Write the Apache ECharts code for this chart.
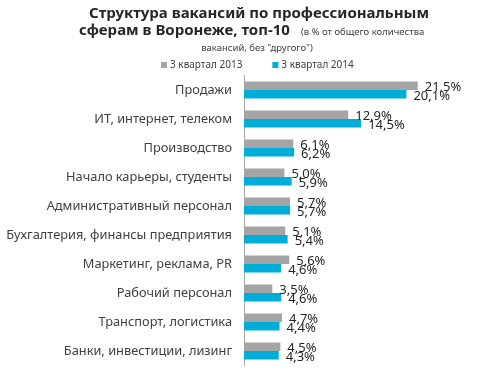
<!DOCTYPE html>
<html><head><meta charset="utf-8">
<script src="https://cdn.jsdelivr.net/npm/echarts@6/dist/echarts.min.js"></script>
<style>html,body{margin:0;padding:0;background:#fff}#c{width:500px;height:382px}</style>
</head><body><div id="c"></div>
<script>
const categories = ['Продажи','ИТ, интернет, телеком','Производство','Начало карьеры, студенты','Административный персонал','Бухгалтерия, финансы предприятия','Маркетинг, реклама, PR','Рабочий персонал','Транспорт, логистика','Банки, инвестиции, лизинг'];
const seriesNames = ['3 квартал 2013','3 квартал 2014'];
const values2013 = [21.5,12.9,6.1,5.0,5.7,5.1,5.6,3.5,4.7,4.5];
const values2014 = [20.1,14.5,6.2,5.9,5.7,5.4,4.6,4.6,4.4,4.3];

const FONT = '"Noto Sans", sans-serif';
const fmt = p => p.value.toFixed(1).replace('.', ',') + '%';
const chart = echarts.init(document.getElementById('c'));
const small = {fontFamily: FONT, fontSize: 9.5, fontWeight: 'normal', color: '#404040'};
const big = {fontFamily: FONT, fontSize: 15, fontWeight: 'bold', color: '#262626'};
chart.setOption({
  animation: false,
  backgroundColor: '#fff',
  title: [
    {text: 'Структура вакансий по профессиональным', left: 254, top: 1, textAlign: 'center', textStyle: big},
    {text: 'сферам в Воронеже, топ-10', left: 74, top: 18, textStyle: big},
    {text: '(в % от общего количества', left: 296, top: 22, textStyle: small},
    {text: 'вакансий, без "другого")', left: 252, top: 38, textAlign: 'center', textStyle: small}
  ],
  legend: {
    data: seriesNames, left: 156, top: 55, itemWidth: 6, itemHeight: 6, itemGap: 30,
    icon: 'rect', textStyle: {fontFamily: FONT, fontSize: 10, color: '#404040', padding: [0,0,0,-2]}
  },
  grid: {left: 244, top: 75.5, height: 290, right: 54},
  xAxis: {type: 'value', min: 0, max: 25, show: false},
  yAxis: {type: 'category', data: categories, inverse: true,
    axisLine: {show: true, lineStyle: {color: '#A6A6A6', width: 1}},
    axisTick: {show: false},
    axisLabel: {fontFamily: FONT, fontSize: 12.8, color: '#404040', margin: 12}},
  series: [
    {name: seriesNames[0], type: 'bar', data: values2013, itemStyle: {color: '#A5A5A5'},
     barWidth: 8.5, barGap: '0%',
     label: {show: true, position: 'right', distance: 7, offset: [0, 2], formatter: fmt,
             fontFamily: FONT, fontSize: 13, color: '#262626'}},
    {name: seriesNames[1], type: 'bar', data: values2014, itemStyle: {color: '#00ADD9'},
     barWidth: 8.5,
     label: {show: true, position: 'right', distance: 7, offset: [0, 2], formatter: fmt,
             fontFamily: FONT, fontSize: 13, color: '#262626'}}
  ]
});
</script></body></html>
